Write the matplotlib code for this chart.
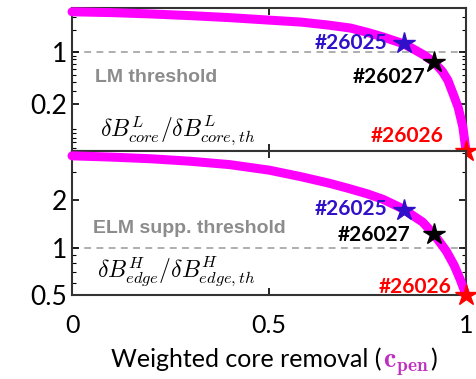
import numpy as np
import matplotlib
matplotlib.use("Agg")
import matplotlib.pyplot as plt
from matplotlib.offsetbox import TextArea, HPacker, AnchoredOffsetbox
from matplotlib.ticker import FixedLocator, NullFormatter, LogLocator

plt.rcParams['font.family'] = ['Lato', 'DejaVu Sans']
plt.rcParams['mathtext.fontset'] = 'cm'

# curve values
c_core = [0.0, 0.1, 0.2, 0.3, 0.4, 0.5, 0.58, 0.65, 0.707, 0.75, 0.79, 0.842, 0.87,
          0.893, 0.918, 0.94, 0.954, 0.97, 0.98, 0.992, 1.0]
core = [3.54, 3.45, 3.31, 3.14, 2.95, 2.73, 2.57, 2.34, 2.13, 1.86, 1.61, 1.3, 1.08,
        0.92, 0.74, 0.55, 0.417, 0.25, 0.18, 0.097, 0.046]
c_edge = [0.0, 0.1, 0.2, 0.3, 0.4, 0.5, 0.58, 0.65, 0.7, 0.75, 0.79, 0.84, 0.89,
          0.92, 0.95, 0.97, 0.985, 1.0]
edge = [3.82, 3.75, 3.66, 3.53, 3.36, 3.1, 2.82, 2.57, 2.38, 2.19, 2.02, 1.76, 1.45,
        1.2, 0.95, 0.77, 0.63, 0.5]

shots = ['#26025', '#26027', '#26026']
shot_x = [0.842, 0.918, 1.0]
shot_core = [1.34, 0.74, 0.046]
shot_edge = [1.73, 1.22, 0.5]
shot_colors = ['#3010c8', 'black', 'red']

fig = plt.figure(figsize=(4.77, 3.79), dpi=100)
ax1 = fig.add_axes([0.151, 0.6016, 0.826, 0.377])
ax2 = fig.add_axes([0.151, 0.2216, 0.826, 0.380])

mag = '#ff00ff'
for ax, xx, y, sy, ylim in [(ax1, c_core, core, shot_core, (0.046, 3.97)),
                            (ax2, c_edge, edge, shot_edge, (0.5, 4.1))]:
    ax.set_yscale('log')
    ax.plot(xx, y, color=mag, lw=6.5, solid_capstyle='round', clip_on=False, zorder=3)
    ax.axhline(1, color='#999999', ls='--', lw=1.1, dashes=(4.5, 3.5), zorder=1)
    for xs, ys, col in zip(shot_x, sy, shot_colors):
        ax.plot(xs, ys, marker='*', ms=16, color=col, mec=col, clip_on=False, zorder=5)
    ax.set_xlim(0, 1)
    ax.set_ylim(*ylim)
    ax.tick_params(direction='in', which='both', top=True, right=True, labelsize=19)
    ax.tick_params(which='major', length=5, width=1.2)
    ax.tick_params(which='minor', length=3, width=0.8)
    ax.set_xticks([0, 0.5, 1])
    for s in ax.spines.values():
        s.set_linewidth(1.5)
        s.set_color('#333333')

ax1.yaxis.set_major_locator(FixedLocator([0.2, 1]))
ax1.set_yticklabels(['0.2', '1'])
ax1.yaxis.set_minor_locator(LogLocator(subs=np.arange(2, 10)))
ax1.yaxis.set_minor_formatter(NullFormatter())
ax1.tick_params(axis='x', labelbottom=False)

ax2.yaxis.set_major_locator(FixedLocator([0.5, 1, 2]))
ax2.set_yticklabels(['0.5', '1', '2'])
ax2.yaxis.set_minor_locator(LogLocator(subs=np.arange(2, 10)))
ax2.yaxis.set_minor_formatter(NullFormatter())
ax2.set_xticklabels(['0', '0.5', '1'])
ax2.tick_params(axis='x', labelsize=18, pad=14)

# annotations
ax1.text(0.058, 0.517, 'LM threshold', transform=ax1.transAxes, color='#8c8c8c',
         fontsize=14, fontweight='bold', family='Liberation Sans', va='center')
ax1.text(0.07, 0.098, r'$\delta B^{L}_{core}/\delta B^{L}_{core,th}$', transform=ax1.transAxes,
         fontsize=17, va='baseline')
ax2.text(0.063, 0.118, r'$\delta B^{H}_{edge}/\delta B^{H}_{edge,th}$', transform=ax2.transAxes,
         fontsize=17, va='baseline')
ax2.text(0.053, 0.465, 'ELM supp. threshold', transform=ax2.transAxes, color='#8c8c8c',
         fontsize=14, fontweight='bold', family='Liberation Sans', va='center')

lab_pos1 = [(0.8, 1.34), (0.896, 0.46), (0.942, 0.074)]
lab_pos2 = [(0.8, 1.75), (0.858, 1.2), (0.962, 0.566)]
for ax, pos in [(ax1, lab_pos1), (ax2, lab_pos2)]:
    for (tx, ty), name, col in zip(pos, shots, shot_colors):
        ax.text(tx, ty, name, color=col, fontsize=15, fontweight='bold', ha='right', va='center')

# x label with coloured c_pen
parts = [TextArea('Weighted core removal (', textprops=dict(fontsize=18, color='black')),
         TextArea(r'$\mathbf{c}_{\mathbf{pen}}$', textprops=dict(fontsize=20, color='#c030c0')),
         TextArea(')', textprops=dict(fontsize=18, color='black'))]
box = HPacker(children=parts, align='baseline', pad=0, sep=1)
anch = AnchoredOffsetbox(loc='center', child=box, frameon=False, pad=0,
                         bbox_to_anchor=(0.575, 0.045), bbox_transform=fig.transFigure, borderpad=0)
fig.add_artist(anch)

fig.savefig('out.png', dpi=100)
